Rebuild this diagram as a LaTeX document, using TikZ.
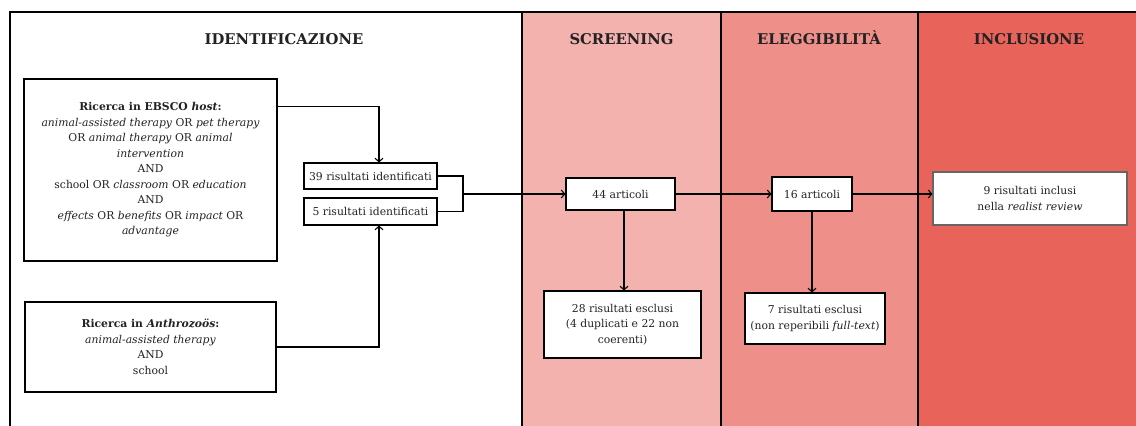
\documentclass[tikz,border=0pt]{standalone}
\usepackage{fontspec}
\setmainfont{DejaVu Serif}
\usetikzlibrary{arrows.meta,calc}
\definecolor{scrcol}{HTML}{F4B2AF}
\definecolor{elecol}{HTML}{EE8F89}
\definecolor{inccol}{HTML}{E8635A}
\definecolor{txtcol}{HTML}{222222}
\begin{document}
\begin{tikzpicture}[x=1pt,y=-1pt,
  every node/.style={text=txtcol},
  box/.style={draw=black,line width=1.1pt,fill=white,align=center,inner sep=2pt,font=\fontsize{10.8}{15.5}\selectfont},
  hdr/.style={anchor=base,font=\fontsize{14.8}{16}\selectfont\bfseries},
  arr/.style={line width=1.1pt,-{Straight Barb[length=3.5pt,width=8pt,line width=1.1pt]}},
  ln/.style={line width=1.1pt}]
\useasboundingbox (0,0) rectangle (1136,426);
\fill[white] (0,0) rectangle (1136,426);
\fill[scrcol] (522,12) rectangle (721,426);
\fill[elecol] (721,12) rectangle (918,426);
\fill[inccol] (918,12) rectangle (1136,426);
\draw[line width=1.2pt] (10,426) -- (10,12) -- (1136,12);
\draw[line width=1.2pt] (522,12) -- (522,426);
\draw[line width=1.2pt] (721,12) -- (721,426);
\draw[line width=1.2pt] (918,12) -- (918,426);
\node[hdr] (h1) at (284,44) {IDENTIFICAZIONE};
\node[hdr] (h2) at (621.5,44) {SCREENING};
\node[hdr] (h3) at (819,44) {ELEGGIBILITÀ};
\node[hdr] (h4) at (1029,44) {INCLUSIONE};
\node[box,minimum width=253pt,minimum height=182pt] (ebsco) at (150.5,170) {\textbf{Ricerca in EBSCO \textit{host}:}\\\textit{animal-assisted therapy} OR \textit{pet therapy}\\OR \textit{animal therapy} OR \textit{animal}\\\textit{intervention}\\AND\\school OR \textit{classroom} OR \textit{education}\\AND\\\textit{effects} OR \textit{benefits} OR \textit{impact} OR\\\textit{advantage}};
\node[box,minimum width=251pt,minimum height=90pt] (anthro) at (150.5,347) {\textbf{Ricerca in \textit{Anthrozoös}:}\\\textit{animal-assisted therapy}\\AND\\school};
\node[box,minimum width=133pt,minimum height=26pt] (b39) at (370.5,176) {39 risultati identificati};
\node[box,minimum width=133pt,minimum height=27pt] (b5) at (370.5,211.5) {5 risultati identificati};
\node[box,minimum width=109pt,minimum height=32pt] (b44) at (620.5,194) {44 articoli};
\node[box,minimum width=80pt,minimum height=34pt] (b16) at (812,194) {16 articoli};
\node[box,draw=black!60,minimum width=194pt,minimum height=53pt] (b9) at (1030,198.5) {9 risultati inclusi\\nella \textit{realist review}};
\node[box,minimum width=157pt,minimum height=67pt] (b28) at (622.5,324.5) {28 risultati esclusi\\(4 duplicati e 22 non\\coerenti)};
\node[box,minimum width=140pt,minimum height=51pt] (b7) at (815,318.5) {7 risultati esclusi\\(non reperibili \textit{full-text})};
\coordinate (m) at (463,194);
\draw[arr] ($(ebsco.north east)+(0,28)$) -| ([xshift=8.5pt]b39.north);
\draw[arr] (anthro.east) -| ([xshift=8.5pt]b5.south);
\draw[ln] (b39.east) -| (m |- b5.east) -- (b5.east);
\draw[arr] (m) -- (b44.west);
\draw[arr] (b44.east) -- (b16.west);
\draw[arr] (b16.east) -- (b9.west |- b16.east);
\draw[arr] ([xshift=3.5pt]b44.south) -- ([xshift=1.5pt]b28.north);
\draw[arr] (b16.south) -- ([xshift=-3pt]b7.north);
\end{tikzpicture}
\end{document}
